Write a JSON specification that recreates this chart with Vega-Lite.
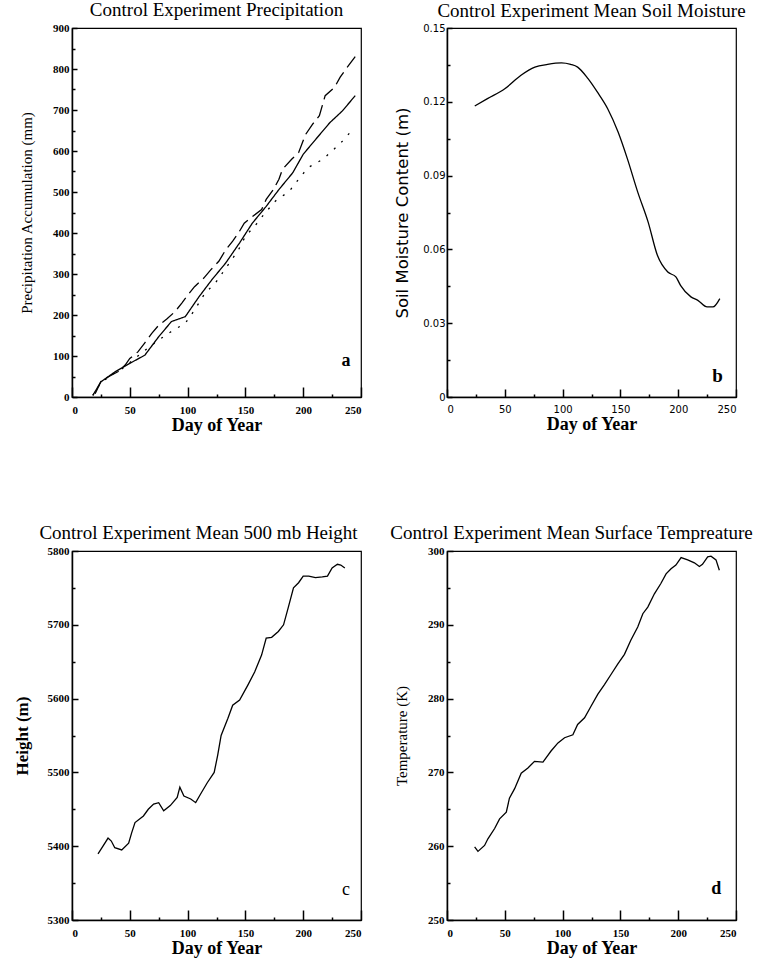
{
  "$schema": "https://vega.github.io/schema/vega-lite/v6.json",
  "background": "white",
  "padding": {"left": 12, "top": 0, "right": 5, "bottom": 5},
  "config": {
    "font": "Liberation Serif",
    "view": {"stroke": "black", "strokeWidth": 1.2},
    "axis": {
      "domainColor": "black", "domainWidth": 1.5,
      "labelColor": "black", "titleColor": "black", "grid": false,
      "labelFont": "Liberation Serif", "labelFontWeight": "bold", "labelFontSize": 11,
      "titleFont": "Liberation Serif"
    },
    "title": {"font": "Liberation Serif", "fontSize": 19, "fontWeight": "normal", "color": "black", "offset": 2}
  },
  "datasets": {
    "precip": [
      {"day": 18, "value": 4, "series": "control"}, {"day": 25, "value": 37, "series": "control"}, {"day": 37, "value": 61, "series": "control"}, {"day": 50, "value": 82, "series": "control"}, {"day": 63, "value": 102, "series": "control"}, {"day": 75, "value": 147, "series": "control"}, {"day": 86, "value": 184, "series": "control"}, {"day": 98, "value": 196, "series": "control"}, {"day": 110, "value": 245, "series": "control"}, {"day": 121, "value": 286, "series": "control"}, {"day": 133, "value": 327, "series": "control"}, {"day": 145, "value": 376, "series": "control"}, {"day": 156, "value": 424, "series": "control"}, {"day": 168, "value": 465, "series": "control"}, {"day": 179, "value": 506, "series": "control"}, {"day": 191, "value": 547, "series": "control"}, {"day": 200, "value": 592, "series": "control"}, {"day": 211, "value": 629, "series": "control"}, {"day": 223, "value": 669, "series": "control"}, {"day": 234, "value": 698, "series": "control"}, {"day": 245, "value": 735, "series": "control"},
      {"day": 20, "value": 8, "series": "dashed"}, {"day": 25, "value": 38, "series": "dashed"}, {"day": 32, "value": 50, "series": "dashed"}, {"day": 40, "value": 62, "series": "dashed"}, {"day": 46, "value": 78, "series": "dashed"}, {"day": 50, "value": 94, "series": "dashed"}, {"day": 57, "value": 110, "series": "dashed"}, {"day": 63, "value": 132, "series": "dashed"}, {"day": 69, "value": 155, "series": "dashed"}, {"day": 75, "value": 175, "series": "dashed"}, {"day": 82, "value": 190, "series": "dashed"}, {"day": 89, "value": 208, "series": "dashed"}, {"day": 95, "value": 229, "series": "dashed"}, {"day": 100, "value": 248, "series": "dashed"}, {"day": 106, "value": 269, "series": "dashed"}, {"day": 114, "value": 290, "series": "dashed"}, {"day": 120, "value": 310, "series": "dashed"}, {"day": 127, "value": 331, "series": "dashed"}, {"day": 133, "value": 359, "series": "dashed"}, {"day": 139, "value": 380, "series": "dashed"}, {"day": 144, "value": 400, "series": "dashed"}, {"day": 149, "value": 424, "series": "dashed"}, {"day": 156, "value": 440, "series": "dashed"}, {"day": 164, "value": 457, "series": "dashed"}, {"day": 168, "value": 482, "series": "dashed"}, {"day": 174, "value": 505, "series": "dashed"}, {"day": 179, "value": 531, "series": "dashed"}, {"day": 182, "value": 555, "series": "dashed"}, {"day": 190, "value": 580, "series": "dashed"}, {"day": 196, "value": 596, "series": "dashed"}, {"day": 202, "value": 640, "series": "dashed"}, {"day": 208, "value": 665, "series": "dashed"}, {"day": 214, "value": 686, "series": "dashed"}, {"day": 219, "value": 735, "series": "dashed"}, {"day": 227, "value": 755, "series": "dashed"}, {"day": 232, "value": 780, "series": "dashed"}, {"day": 237, "value": 800, "series": "dashed"}, {"day": 245, "value": 830, "series": "dashed"},
      {"day": 18, "value": 4, "series": "dotted"}, {"day": 25, "value": 35, "series": "dotted"}, {"day": 35, "value": 55, "series": "dotted"}, {"day": 45, "value": 72, "series": "dotted"}, {"day": 57, "value": 100, "series": "dotted"}, {"day": 65, "value": 118, "series": "dotted"}, {"day": 75, "value": 139, "series": "dotted"}, {"day": 85, "value": 158, "series": "dotted"}, {"day": 98, "value": 180, "series": "dotted"}, {"day": 106, "value": 212, "series": "dotted"}, {"day": 115, "value": 253, "series": "dotted"}, {"day": 124, "value": 278, "series": "dotted"}, {"day": 135, "value": 322, "series": "dotted"}, {"day": 144, "value": 359, "series": "dotted"}, {"day": 150, "value": 392, "series": "dotted"}, {"day": 159, "value": 420, "series": "dotted"}, {"day": 167, "value": 449, "series": "dotted"}, {"day": 176, "value": 478, "series": "dotted"}, {"day": 188, "value": 502, "series": "dotted"}, {"day": 196, "value": 531, "series": "dotted"}, {"day": 204, "value": 559, "series": "dotted"}, {"day": 217, "value": 580, "series": "dotted"}, {"day": 225, "value": 600, "series": "dotted"}, {"day": 234, "value": 624, "series": "dotted"}, {"day": 243, "value": 653, "series": "dotted"}
    ],
    "soil": [
      {"day": 24, "value": 0.1183}, {"day": 35, "value": 0.1213}, {"day": 50, "value": 0.1253}, {"day": 64, "value": 0.1308}, {"day": 76, "value": 0.1341}, {"day": 87, "value": 0.1352}, {"day": 99, "value": 0.1358}, {"day": 107, "value": 0.1352}, {"day": 113, "value": 0.1341}, {"day": 122, "value": 0.1294}, {"day": 130, "value": 0.124}, {"day": 139, "value": 0.1172}, {"day": 148, "value": 0.1077}, {"day": 156, "value": 0.0969}, {"day": 165, "value": 0.0833}, {"day": 174, "value": 0.0711}, {"day": 182, "value": 0.0576}, {"day": 191, "value": 0.0508}, {"day": 198, "value": 0.0488}, {"day": 202, "value": 0.0454}, {"day": 211, "value": 0.0407}, {"day": 217, "value": 0.0393}, {"day": 225, "value": 0.0366}, {"day": 230, "value": 0.0366}, {"day": 236, "value": 0.04}
    ],
    "height500": [
      {"day": 22.5, "value": 5389.5}, {"day": 26.8, "value": 5400}, {"day": 31.2, "value": 5411}, {"day": 34, "value": 5407}, {"day": 37, "value": 5398}, {"day": 43, "value": 5395}, {"day": 49, "value": 5404}, {"day": 51.6, "value": 5418}, {"day": 54.5, "value": 5432}, {"day": 61.8, "value": 5441}, {"day": 66, "value": 5450}, {"day": 70.6, "value": 5457}, {"day": 75, "value": 5459}, {"day": 79.3, "value": 5448}, {"day": 85, "value": 5455}, {"day": 91, "value": 5466}, {"day": 93.3, "value": 5480}, {"day": 96.8, "value": 5468}, {"day": 102.7, "value": 5464}, {"day": 107, "value": 5459}, {"day": 111, "value": 5470}, {"day": 117, "value": 5486}, {"day": 123, "value": 5500}, {"day": 126, "value": 5523}, {"day": 129, "value": 5550}, {"day": 134.8, "value": 5573}, {"day": 139, "value": 5591}, {"day": 145, "value": 5598}, {"day": 152, "value": 5618}, {"day": 158, "value": 5636}, {"day": 164, "value": 5659}, {"day": 168, "value": 5682}, {"day": 172.7, "value": 5683}, {"day": 178.5, "value": 5691}, {"day": 183, "value": 5700}, {"day": 187, "value": 5723}, {"day": 191.6, "value": 5750}, {"day": 196, "value": 5757}, {"day": 200, "value": 5766}, {"day": 204.8, "value": 5766}, {"day": 210.6, "value": 5764}, {"day": 216.5, "value": 5765}, {"day": 221, "value": 5766}, {"day": 225, "value": 5777}, {"day": 229.6, "value": 5782}, {"day": 232.5, "value": 5781}, {"day": 236, "value": 5777}
    ],
    "temp": [
      {"day": 23.9, "value": 259.9}, {"day": 26.8, "value": 259.3}, {"day": 32.5, "value": 260.1}, {"day": 35.4, "value": 261}, {"day": 41.2, "value": 262.4}, {"day": 45.5, "value": 263.7}, {"day": 51.3, "value": 264.6}, {"day": 54, "value": 266.5}, {"day": 58.5, "value": 267.8}, {"day": 64.2, "value": 269.9}, {"day": 70, "value": 270.6}, {"day": 75.7, "value": 271.5}, {"day": 83, "value": 271.4}, {"day": 90, "value": 272.9}, {"day": 96, "value": 274}, {"day": 101.7, "value": 274.7}, {"day": 108.9, "value": 275.1}, {"day": 113, "value": 276.5}, {"day": 119, "value": 277.4}, {"day": 124.7, "value": 279}, {"day": 130.5, "value": 280.6}, {"day": 136.2, "value": 281.9}, {"day": 142, "value": 283.3}, {"day": 147.8, "value": 284.7}, {"day": 153.5, "value": 286}, {"day": 159, "value": 287.9}, {"day": 165, "value": 289.7}, {"day": 169.4, "value": 291.5}, {"day": 173.7, "value": 292.4}, {"day": 179.4, "value": 294.2}, {"day": 185, "value": 295.6}, {"day": 189.5, "value": 296.9}, {"day": 193.8, "value": 297.6}, {"day": 198, "value": 298.1}, {"day": 202.5, "value": 299.1}, {"day": 208.2, "value": 298.8}, {"day": 214, "value": 298.4}, {"day": 218.3, "value": 297.9}, {"day": 221, "value": 298.2}, {"day": 225.5, "value": 299.2}, {"day": 228.4, "value": 299.3}, {"day": 232.7, "value": 298.8}, {"day": 235.6, "value": 297.4}
    ]
  },
  "columns": 2,
  "align": "each",
  "spacing": {"row": 88, "column": 26},
  "concat": [
    {
      "width": 289, "height": 369,
      "title": {"text": "Control Experiment Precipitation"},
      "resolve": {"axis": {"x": "independent", "y": "independent"}},
      "layer": [
        {
          "data": {"name": "precip"},
          "mark": {"type": "line", "strokeWidth": 1.3, "color": "black"},
          "encoding": {
            "x": {"field": "day", "type": "quantitative", "scale": {"domain": [0, 250], "nice": false},
                  "axis": {"title": "Day of Year", "titleFontSize": 18, "titleFontWeight": "bold", "titlePadding": 1, "values": [0, 50, 100, 150, 200, 250], "tickSize": -10, "tickColor": "black", "tickWidth": 1.5, "labelPadding": 17}},
            "y": {"field": "value", "type": "quantitative", "scale": {"domain": [0, 900], "nice": false},
                  "axis": {"title": "Precipitation Accumulation (mm)", "titleFontSize": 15, "titleFontWeight": "normal", "titlePadding": 18, "values": [0, 100, 200, 300, 400, 500, 600, 700, 800, 900], "tickSize": -5, "tickColor": "black", "tickWidth": 1.5, "labelPadding": 8}},
            "strokeDash": {"field": "series", "type": "nominal", "legend": null,
                           "scale": {"domain": ["control", "dashed", "dotted"], "range": [[1, 0], [14, 6], [2, 8]]}}
          }
        },
        {
          "data": {"values": [{}]},
          "mark": {"type": "text", "font": "Liberation Serif", "fontWeight": "bold", "fontSize": 18, "color": "black"},
          "encoding": {
            "x": {"datum": 237, "type": "quantitative", "scale": {"domain": [0, 250], "nice": false},
                  "axis": {"orient": "bottom", "values": [25, 75, 125, 175, 225], "labels": false, "domain": false, "title": null, "tickSize": 3, "offset": -3, "tickColor": "black", "tickWidth": 1.5}},
            "y": {"datum": 88, "type": "quantitative", "scale": {"domain": [0, 900], "nice": false},
                  "axis": {"orient": "left", "values": [50, 150, 250, 350, 450, 550, 650, 750, 850], "labels": false, "domain": false, "title": null, "tickSize": 3, "offset": -3, "tickColor": "black", "tickWidth": 1.5}},
            "text": {"value": "a"}
          }
        }
      ]
    },
    {
      "width": 289, "height": 369,
      "title": {"text": "Control Experiment Mean Soil Moisture"},
      "resolve": {"axis": {"x": "independent", "y": "independent"}},
      "layer": [
        {
          "data": {"name": "soil"},
          "mark": {"type": "line", "strokeWidth": 1.3, "color": "black", "interpolate": "monotone"},
          "encoding": {
            "x": {"field": "day", "type": "quantitative", "scale": {"domain": [0, 250], "nice": false},
                  "axis": {"title": "Day of Year", "titleFontSize": 18, "titleFontWeight": "bold", "titlePadding": 1, "values": [0, 50, 100, 150, 200, 250], "labelFont": "DejaVu Sans", "labelFontWeight": "normal", "labelFontSize": 10, "tickSize": -8, "tickColor": "black", "tickWidth": 1.5, "labelPadding": 15}},
            "y": {"field": "value", "type": "quantitative", "scale": {"domain": [0, 0.15], "nice": false},
                  "axis": {"title": "Soil Moisture Content (m)", "titleFont": "DejaVu Sans", "titleFontSize": 16.5, "titleFontWeight": "normal", "titlePadding": 12, "labelFont": "DejaVu Sans", "labelFontWeight": "normal", "labelFontSize": 10, "values": [0, 0.03, 0.06, 0.09, 0.12, 0.15], "labelExpr": "datum.value == 0 ? '0' : format(datum.value, '.2f')", "tickSize": -5, "tickColor": "black", "tickWidth": 1.5, "labelPadding": 7}}
          }
        },
        {
          "data": {"values": [{}]},
          "mark": {"type": "text", "font": "Liberation Serif", "fontWeight": "bold", "fontSize": 19, "color": "black"},
          "encoding": {
            "x": {"datum": 234, "type": "quantitative", "scale": {"domain": [0, 250], "nice": false},
                  "axis": {"orient": "bottom", "values": [25, 75, 125, 175, 225], "labels": false, "domain": false, "title": null, "tickSize": 3, "offset": -3, "tickColor": "black", "tickWidth": 1.5}},
            "y": {"datum": 0.0085, "type": "quantitative", "scale": {"domain": [0, 0.15], "nice": false},
                  "axis": {"orient": "left", "values": [0.015, 0.045, 0.075, 0.105, 0.135], "labels": false, "domain": false, "title": null, "tickSize": 3, "offset": -3, "tickColor": "black", "tickWidth": 1.5}},
            "text": {"value": "b"}
          }
        }
      ]
    },
    {
      "width": 289, "height": 369,
      "title": {"text": "Control Experiment Mean 500 mb Height", "dx": -18},
      "resolve": {"axis": {"x": "independent", "y": "independent"}},
      "layer": [
        {
          "data": {"name": "height500"},
          "mark": {"type": "line", "strokeWidth": 1.3, "color": "black"},
          "encoding": {
            "x": {"field": "day", "type": "quantitative", "scale": {"domain": [0, 250], "nice": false},
                  "axis": {"title": "Day of Year", "titleFontSize": 18, "titleFontWeight": "bold", "titlePadding": 1, "values": [0, 50, 100, 150, 200, 250], "tickSize": -10, "tickColor": "black", "tickWidth": 1.5, "labelPadding": 17}},
            "y": {"field": "value", "type": "quantitative", "scale": {"domain": [5300, 5800], "nice": false, "zero": false},
                  "axis": {"title": "Height (m)", "titleFontSize": 17, "titleFontWeight": "bold", "titlePadding": 16, "format": "d", "values": [5300, 5400, 5500, 5600, 5700, 5800], "tickSize": -6, "tickColor": "black", "tickWidth": 1.5, "labelPadding": 9}}
          }
        },
        {
          "data": {"values": [{}]},
          "mark": {"type": "text", "font": "Liberation Serif", "fontWeight": "normal", "fontSize": 18, "color": "black"},
          "encoding": {
            "x": {"datum": 237, "type": "quantitative", "scale": {"domain": [0, 250], "nice": false},
                  "axis": {"orient": "bottom", "values": [25, 75, 125, 175, 225], "labels": false, "domain": false, "title": null, "tickSize": 3, "offset": -3, "tickColor": "black", "tickWidth": 1.5}},
            "y": {"datum": 5340, "type": "quantitative", "scale": {"domain": [5300, 5800], "nice": false, "zero": false},
                  "axis": {"orient": "left", "values": [5350, 5450, 5550, 5650, 5750], "labels": false, "domain": false, "title": null, "tickSize": 3, "offset": -3, "tickColor": "black", "tickWidth": 1.5}},
            "text": {"value": "c"}
          }
        }
      ]
    },
    {
      "width": 289, "height": 369,
      "title": {"text": "Control Experiment Mean Surface Tempreature", "dx": -20},
      "resolve": {"axis": {"x": "independent", "y": "independent"}},
      "layer": [
        {
          "data": {"name": "temp"},
          "mark": {"type": "line", "strokeWidth": 1.3, "color": "black"},
          "encoding": {
            "x": {"field": "day", "type": "quantitative", "scale": {"domain": [0, 250], "nice": false},
                  "axis": {"title": "Day of Year", "titleFontSize": 18, "titleFontWeight": "bold", "titlePadding": 1, "values": [0, 50, 100, 150, 200, 250], "tickSize": -10, "tickColor": "black", "tickWidth": 1.5, "labelPadding": 17}},
            "y": {"field": "value", "type": "quantitative", "scale": {"domain": [250, 300], "nice": false, "zero": false},
                  "axis": {"title": "Temperature (K)", "titleFontSize": 15, "titleFontWeight": "normal", "titlePadding": 18, "values": [250, 260, 270, 280, 290, 300], "tickSize": -6, "tickColor": "black", "tickWidth": 1.5, "labelPadding": 9}}
          }
        },
        {
          "data": {"values": [{}]},
          "mark": {"type": "text", "font": "Liberation Serif", "fontWeight": "bold", "fontSize": 18, "color": "black"},
          "encoding": {
            "x": {"datum": 233, "type": "quantitative", "scale": {"domain": [0, 250], "nice": false},
                  "axis": {"orient": "bottom", "values": [25, 75, 125, 175, 225], "labels": false, "domain": false, "title": null, "tickSize": 3, "offset": -3, "tickColor": "black", "tickWidth": 1.5}},
            "y": {"datum": 254.2, "type": "quantitative", "scale": {"domain": [250, 300], "nice": false, "zero": false},
                  "axis": {"orient": "left", "values": [255, 265, 275, 285, 295], "labels": false, "domain": false, "title": null, "tickSize": 3, "offset": -3, "tickColor": "black", "tickWidth": 1.5}},
            "text": {"value": "d"}
          }
        }
      ]
    }
  ]
}
